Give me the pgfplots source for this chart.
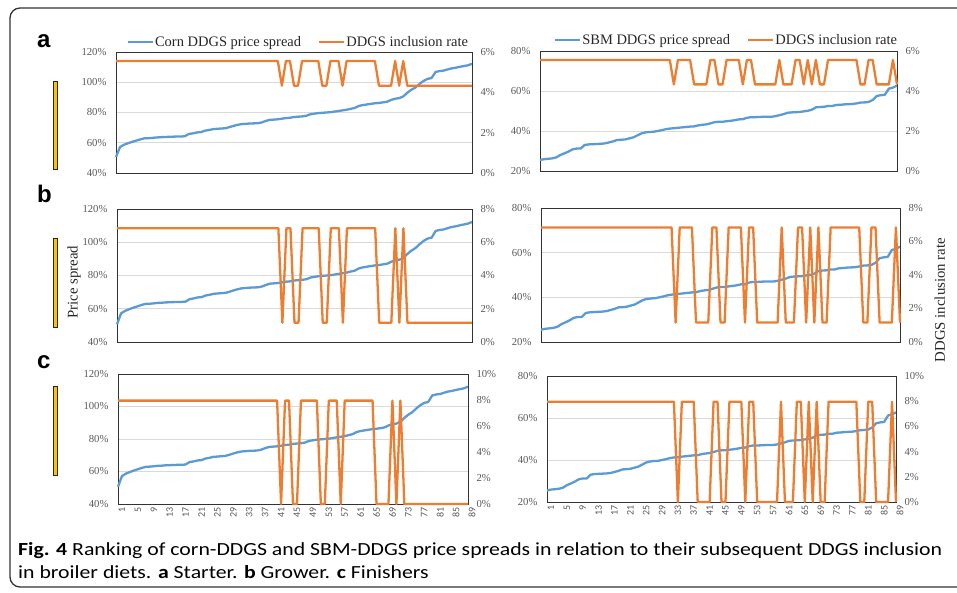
\documentclass[border=0pt]{standalone}
\usepackage{fontspec}
\setmainfont{Liberation Serif}
\newfontfamily\capfont{Carlito}
\newfontfamily\arialfont{Liberation Sans}
\usepackage{graphicx}
\usepackage{pgfplots}
\pgfplotsset{compat=1.18}
\usepackage{pgfplotstable}
\definecolor{exblue}{HTML}{5B9BD5}
\definecolor{exorange}{HTML}{ED7D31}
\definecolor{gold}{HTML}{FFC000}
\definecolor{tickgray}{HTML}{595959}
\definecolor{gridgray}{HTML}{D9D9D9}

% Corn DDGS price spread (%), ranked
\pgfplotstableread{
x y
1 50.6
2 57.2
3 58.7
4 59.7
5 60.6
6 61.4
7 62.2
8 62.9
9 63.0
10 63.2
11 63.5
12 63.6
13 63.8
14 63.9
15 64.0
16 64.1
17 64.1
18 64.3
19 65.8
20 66.2
21 66.8
22 67.0
23 68.0
24 68.4
25 69.0
26 69.2
27 69.4
28 69.6
29 70.3
30 71.1
31 71.8
32 72.3
33 72.5
34 72.7
35 72.8
36 72.9
37 73.4
38 74.4
39 75.1
40 75.3
41 75.5
42 75.9
43 76.3
44 76.5
45 77.0
46 77.2
47 77.4
48 77.8
49 78.8
50 79.2
51 79.6
52 79.8
53 80.0
54 80.2
55 80.6
56 81.0
57 81.4
58 81.8
59 82.4
60 83.0
61 84.3
62 84.9
63 85.3
64 85.7
65 86.1
66 86.3
67 86.7
68 87.1
69 88.3
70 89.1
71 89.5
72 90.6
73 93.0
74 95.0
75 96.5
76 98.8
77 100.8
78 102.2
79 102.8
80 106.8
81 107.4
82 107.7
83 108.5
84 109.2
85 109.6
86 110.2
87 110.7
88 111.2
89 112.2
}\corn

% SBM DDGS price spread (%), ranked
\pgfplotstableread{
x y
1 25.5
2 25.9
3 26.1
4 26.3
5 26.8
6 28.0
7 28.8
8 29.7
9 30.8
10 31.2
11 31.2
12 33.0
13 33.3
14 33.4
15 33.5
16 33.6
17 33.8
18 34.3
19 34.8
20 35.5
21 35.6
22 35.8
23 36.3
24 36.8
25 37.8
26 38.8
27 39.3
28 39.5
29 39.6
30 40.0
31 40.4
32 40.9
33 41.2
34 41.4
35 41.6
36 41.8
37 42.0
38 42.2
39 42.3
40 42.8
41 43.1
42 43.3
43 43.8
44 44.4
45 44.6
46 44.6
47 44.9
48 45.1
49 45.4
50 45.8
51 45.9
52 46.6
53 46.9
54 46.9
55 47.0
56 47.1
57 47.1
58 47.1
59 47.4
60 47.9
61 48.4
62 49.1
63 49.3
64 49.4
65 49.5
66 49.8
67 50.1
68 50.6
69 51.8
70 52.0
71 52.1
72 52.5
73 52.5
74 53.0
75 53.1
76 53.3
77 53.4
78 53.5
79 53.8
80 54.2
81 54.3
82 54.5
83 55.5
84 57.5
85 57.9
86 58.1
87 61.2
88 61.7
89 62.7
}\sbm

% DDGS inclusion rate (%) with corn ranking: a starter, b grower, c finisher
\pgfplotstableread{
x a b c
1 5.55 6.84 7.95
41 5.55 6.84 7.95
42 4.33 1.16 0
43 5.55 6.84 7.95
44 5.55 6.84 7.95
45 4.33 1.16 0
46 4.33 1.16 0
47 5.55 6.84 7.95
51 5.55 6.84 7.95
52 4.33 1.16 0
53 4.33 1.16 0
54 5.55 6.84 7.95
56 5.55 6.84 7.95
57 4.33 1.16 0
58 5.55 6.84 7.95
65 5.55 6.84 7.95
66 4.33 1.16 0
69 4.33 1.16 0
70 5.55 6.84 7.95
71 4.33 1.16 0
72 5.55 6.84 7.95
73 4.33 1.16 0
89 4.33 1.16 0
}\incCorn

% DDGS inclusion rate (%) with SBM ranking
\pgfplotstableread{
x a b c
1 5.55 6.84 7.95
33 5.55 6.84 7.95
34 4.33 1.16 0
35 5.55 6.84 7.95
38 5.55 6.84 7.95
39 4.33 1.16 0
42 4.33 1.16 0
43 5.55 6.84 7.95
44 5.55 6.84 7.95
45 4.33 1.16 0
46 4.33 1.16 0
47 5.55 6.84 7.95
50 5.55 6.84 7.95
51 4.33 1.16 0
52 5.55 6.84 7.95
53 5.55 6.84 7.95
54 4.33 1.16 0
59 4.33 1.16 0
60 5.55 6.84 7.95
61 4.33 1.16 0
63 4.33 1.16 0
64 5.55 6.84 7.95
65 5.55 6.84 7.95
66 4.33 1.16 0
67 5.55 6.84 7.95
68 4.33 1.16 0
69 5.55 6.84 7.95
70 4.33 1.16 0
71 4.33 1.16 0
72 5.55 6.84 7.95
79 5.55 6.84 7.95
80 4.33 1.16 0
81 4.33 1.16 0
82 5.55 6.84 7.95
83 5.55 6.84 7.95
84 4.33 1.16 0
87 4.33 1.16 0
88 5.55 6.84 7.95
89 4.33 1.16 0
}\incSbm

\pgfplotsset{
  panel/.style={scale only axis, xmin=1, xmax=89, clip=false,
    /pgf/number format/assume math mode=true,
    axis line style={black!80, line width=0.8pt},
    major tick length=0pt,
    tick label style={font=\fontsize{10.7}{12}\selectfont, text=tickgray},
    yticklabel={\pgfmathprintnumber{\tick}\%},
  },
  primary/.style={panel, ymajorgrids, grid style={gridgray, line width=0.9pt},
    yticklabel style={xshift=-6pt}},
  secondary/.style={panel, axis y line*=right, axis x line=none, ymin=0,
    yticklabel style={xshift=5pt}},
  leftp/.style={ymin=40, ymax=120, ytick={40,60,80,100,120}},
  rightp/.style={ymin=20, ymax=80, ytick={20,40,60,80}},
  bluel/.style={exblue, line width=2.3pt, line join=round},
  orangel/.style={exorange, line width=2.3pt, line join=round},
  toprow/.style={xtick=\empty},
  botrow/.style={xtick={1,5,...,89},
    xticklabel style={rotate=90, anchor=east, font=\capfont\fontsize{10}{11}\selectfont, text=tickgray, yshift=-4pt},
    xticklabel={\pgfmathprintnumber{\tick}}},
  leg/.style={legend style={at={(axis description cs:#1)}, anchor=center, draw=none, fill=none,
      legend columns=2, font=\fontsize{14.5}{16}\selectfont, text=black!85,
      /tikz/every even column/.append style={column sep=16pt},
      inner sep=0pt, nodes={inner sep=1pt}},
    legend image code/.code={\draw[##1, line width=2.3pt] (0pt,0pt) -- (25pt,0pt);}},
}

\newsavebox\capA
\newsavebox\capB
\newlength\capw

\begin{document}
\sbox\capA{\capfont\fontsize{18.5}{22}\selectfont\textbf{Fig. 4} Ranking of corn-DDGS and SBM-DDGS price spreads in relation to their subsequent DDGS inclusion}%
\sbox\capB{\capfont\fontsize{18.5}{22}\selectfont in broiler diets. \textbf{a} Starter. \textbf{b} Grower. \textbf{c} Finishers}%
\setlength\capw{\wd\capA}%
\begin{tikzpicture}[x=1pt,y=1pt]
\useasboundingbox (0,0) rectangle (957,593);
\draw[black!80, line width=1.3pt, rounded corners=10pt] (10,6) rectangle (1000,585);

% panel letters and yellow bars
\foreach \l/\yb in {a/545, b/390, c/224}{
  \node[anchor=base west, inner sep=0, font=\arialfont\bfseries\fontsize{24}{24}\selectfont] at (37,\yb) {\l};
}
\filldraw[fill=gold, draw=black!85, line width=0.7pt] (53,424) rectangle (57,512);
\filldraw[fill=gold, draw=black!85, line width=0.7pt] (53,266) rectangle (57,355);
\filldraw[fill=gold, draw=black!85, line width=0.7pt] (53,118) rectangle (57,207);

% ---------- a left ----------
\begin{axis}[primary, leftp, toprow, at={(116pt,420pt)}, anchor=south west, width=356pt, height=121pt, leg={0.511,1.083}]
\addplot[bluel] table[x=x,y=y]{\corn};
\addlegendentry{Corn DDGS price spread}
\addlegendimage{orangel}
\addlegendentry{DDGS inclusion rate}
\end{axis}
\begin{axis}[secondary, at={(116pt,420pt)}, anchor=south west, width=356pt, height=121pt, ymax=6, ytick={0,2,4,6}]
\addplot[orangel] table[x=x,y=a]{\incCorn};
\end{axis}

% ---------- a right ----------
\begin{axis}[primary, rightp, toprow, at={(540pt,422pt)}, anchor=south west, width=357pt, height=120pt, leg={0.521,1.092}]
\addplot[bluel] table[x=x,y=y]{\sbm};
\addlegendentry{SBM DDGS price spread}
\addlegendimage{orangel}
\addlegendentry{DDGS inclusion rate}
\end{axis}
\begin{axis}[secondary, at={(540pt,422pt)}, anchor=south west, width=357pt, height=120pt, ymax=6, ytick={0,2,4,6}]
\addplot[orangel] table[x=x,y=a]{\incSbm};
\end{axis}

% ---------- b left ----------
\begin{axis}[primary, leftp, toprow, at={(117pt,251pt)}, anchor=south west, width=355pt, height=133pt,
  ylabel={Price spread}, ylabel style={at={(axis description cs:-0.121,0.451)}, anchor=center, font=\fontsize{14.8}{16}\selectfont, text=black!85}]
\addplot[bluel] table[x=x,y=y]{\corn};
\end{axis}
\begin{axis}[secondary, at={(117pt,251pt)}, anchor=south west, width=355pt, height=133pt, ymax=8, ytick={0,2,4,6,8}]
\addplot[orangel] table[x=x,y=b]{\incCorn};
\end{axis}

% ---------- b right ----------
\begin{axis}[primary, rightp, toprow, at={(541pt,251pt)}, anchor=south west, width=359pt, height=134pt]
\addplot[bluel] table[x=x,y=y]{\sbm};
\end{axis}
\begin{axis}[secondary, at={(541pt,251pt)}, anchor=south west, width=359pt, height=134pt, ymax=8, ytick={0,2,4,6,8},
  ylabel={DDGS inclusion rate}, ylabel style={at={(axis description cs:1.111,0.313)}, anchor=center, font=\fontsize{14.8}{16}\selectfont, text=black!85}]
\addplot[orangel] table[x=x,y=b]{\incSbm};
\end{axis}

% ---------- c left ----------
\begin{axis}[primary, leftp, botrow, at={(118pt,89pt)}, anchor=south west, width=350pt, height=130pt]
\addplot[bluel] table[x=x,y=y]{\corn};
\end{axis}
\begin{axis}[secondary, at={(118pt,89pt)}, anchor=south west, width=350pt, height=130pt, ymax=10, ytick={0,2,4,6,8,10}]
\addplot[orangel] table[x=x,y=c]{\incCorn};
\end{axis}

% ---------- c right ----------
\begin{axis}[primary, rightp, botrow, at={(547pt,91pt)}, anchor=south west, width=349pt, height=126pt]
\addplot[bluel] table[x=x,y=y]{\sbm};
\end{axis}
\begin{axis}[secondary, at={(547pt,91pt)}, anchor=south west, width=349pt, height=126pt, ymax=10, ytick={0,2,4,6,8,10}]
\addplot[orangel] table[x=x,y=c]{\incSbm};
\end{axis}

% caption
\pgfmathsetmacro\capsx{924pt/\capw}
\node[anchor=base west, inner sep=0, text=black!90] at (18,37) {\scalebox{\capsx}[1]{\usebox\capA}};
\node[anchor=base west, inner sep=0, text=black!90] at (18,14) {\scalebox{\capsx}[1]{\usebox\capB}};
\end{tikzpicture}
\end{document}
